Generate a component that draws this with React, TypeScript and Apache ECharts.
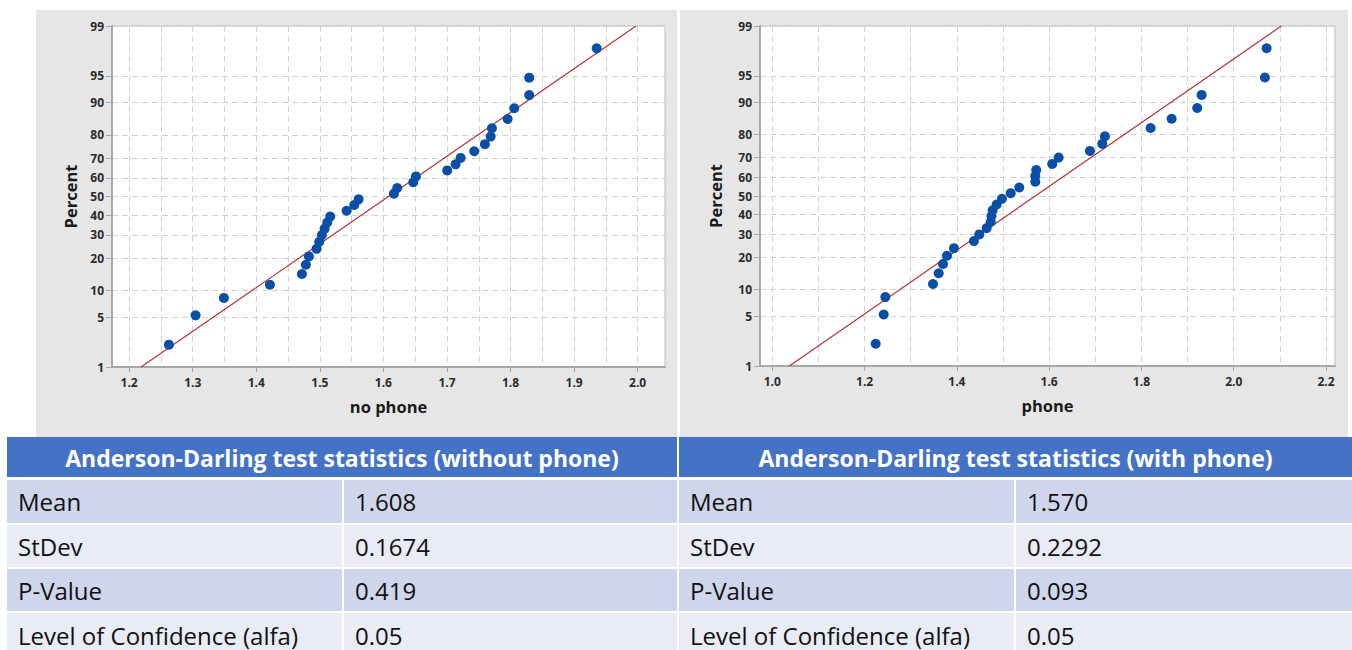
import React, { useEffect, useRef } from "react";
import * as echarts from "echarts";

// Plotting positions (percent) of the 32 ordered observations
const percentRanks = [
  2.16, 5.25, 8.33, 11.42, 14.51, 17.59, 20.68, 23.77, 26.85, 29.94, 33.02, 36.11,
  39.2, 42.28, 45.37, 48.46, 51.54, 54.63, 57.72, 60.8, 63.89, 66.98, 70.06, 73.15,
  76.23, 79.32, 82.41, 85.49, 88.58, 91.67, 94.75, 97.84,
];
const noPhoneValues = [
  1.2625, 1.3045, 1.349, 1.4214, 1.4718, 1.478, 1.4828, 1.4949, 1.499, 1.5032, 1.5075, 1.5116,
  1.5163, 1.5421, 1.5541, 1.561, 1.6165, 1.6217, 1.6469, 1.6512, 1.7004, 1.7136, 1.7215, 1.7429,
  1.7597, 1.7687, 1.7707, 1.7954, 1.8058, 1.8294, 1.8294, 1.9355,
];
const phoneValues = [
  1.224, 1.2414, 1.2449, 1.3482, 1.3606, 1.3699, 1.3785, 1.3937, 1.437, 1.4486, 1.4646, 1.4733,
  1.475, 1.4775, 1.4862, 1.4977, 1.5166, 1.5352, 1.5699, 1.5699, 1.572, 1.6067, 1.6206, 1.6884,
  1.7151, 1.7209, 1.8199, 1.8654, 1.9209, 1.9304, 2.0676, 2.0713,
];
const percentTicks = [1, 5, 10, 20, 30, 40, 50, 60, 70, 80, 90, 95, 99];
const noPhoneXTicks = [1.2, 1.3, 1.4, 1.5, 1.6, 1.7, 1.8, 1.9, 2.0];
const noPhoneXGrid = [1.2, 1.25, 1.3, 1.35, 1.4, 1.45, 1.5, 1.55, 1.6, 1.65, 1.7, 1.75, 1.8, 1.85, 1.9, 1.95, 2.0];
const phoneXTicks = [1.0, 1.2, 1.4, 1.6, 1.8, 2.0, 2.2];
const phoneXGrid = [1.0, 1.1, 1.2, 1.3, 1.4, 1.5, 1.6, 1.7, 1.8, 1.9, 2.0, 2.1, 2.2];
const noPhoneXRange = [1.173, 2.043];
const phoneXRange = [0.9733, 2.2195];
const axisTitles = ["no phone", "phone"];
const tableTitles = [
  "Anderson-Darling test statistics (without phone)",
  "Anderson-Darling test statistics (with phone)",
];
const statLabels = ["Mean", "StDev", "P-Value", "Level of Confidence (alfa)"];
const noPhoneStats = ["1.608", "0.1674", "0.419", "0.05"];
const phoneStats = ["1.570", "0.2292", "0.093", "0.05"];

// Inverse standard normal CDF (Acklam) - used for the probability scale
function normInv(p: number): number {
  const a = [-3.969683028665376e1, 2.209460984245205e2, -2.759285104469687e2, 1.38357751867269e2, -3.066479806614716e1, 2.506628277459239];
  const b = [-5.447609879822406e1, 1.615858368580409e2, -1.556989798598866e2, 6.680131188771972e1, -1.328068155288572e1];
  const c = [-7.784894002430293e-3, -3.223964580411365e-1, -2.400758277161838, -2.549732539343734, 4.374664141464968, 2.938163982698783];
  const d = [7.784695709041462e-3, 3.224671290700398e-1, 2.445134137142996, 3.754408661907416];
  const pl = 0.02425;
  if (p < pl) {
    const q = Math.sqrt(-2 * Math.log(p));
    return (((((c[0] * q + c[1]) * q + c[2]) * q + c[3]) * q + c[4]) * q + c[5]) / ((((d[0] * q + d[1]) * q + d[2]) * q + d[3]) * q + 1);
  }
  if (p <= 1 - pl) {
    const q = p - 0.5;
    const r = q * q;
    return ((((((a[0] * r + a[1]) * r + a[2]) * r + a[3]) * r + a[4]) * r + a[5]) * q) / (((((b[0] * r + b[1]) * r + b[2]) * r + b[3]) * r + b[4]) * r + 1);
  }
  const q = Math.sqrt(-2 * Math.log(1 - p));
  return -(((((c[0] * q + c[1]) * q + c[2]) * q + c[3]) * q + c[4]) * q + c[5]) / ((((d[0] * q + d[1]) * q + d[2]) * q + d[3]) * q + 1);
}

const FONT = "'Open Sans', 'Noto Sans', sans-serif";
const TFONT = "'Open Sans', 'Noto Sans', sans-serif";

function buildOption() {
  const zMin = normInv(0.01);
  const zMax = normInv(0.99);
  const zTicks = percentTicks.map((p) => normInv(p / 100));
  const pctLabel = (v: number) => {
    let bi = 0;
    zTicks.forEach((z, i) => {
      if (Math.abs(z - v) < Math.abs(zTicks[bi] - v)) bi = i;
    });
    return String(percentTicks[bi]);
  };

  const panels = [
    { grid: { left: 112, top: 26, width: 553, height: 341 }, yGap: 33.5, range: noPhoneXRange, ticks: noPhoneXTicks, gridTicks: noPhoneXGrid, values: noPhoneValues, stats: noPhoneStats },
    { grid: { left: 760, top: 26, width: 575, height: 340 }, yGap: 36.5, range: phoneXRange, ticks: phoneXTicks, gridTicks: phoneXGrid, values: phoneValues, stats: phoneStats },
  ];

  const labelStyle = { color: "#2b2b2b", fontSize: 12, fontWeight: "bold", fontFamily: FONT };
  const nameStyle = { color: "#1a1a1a", fontSize: 16.5, fontWeight: "bold", fontFamily: FONT };
  const axisLine = { show: true, onZero: false, lineStyle: { color: "#a8a8a8", width: 2 } };
  const splitLine = { show: true, lineStyle: { color: "#d3d3d3", width: 1, type: [6, 4] } };

  const grid: any[] = [];
  const xAxis: any[] = [];
  const yAxis: any[] = [];
  const series: any[] = [];

  panels.forEach((pn, i) => {
    grid.push({ ...pn.grid, show: true, backgroundColor: "#ffffff", borderColor: "#bdbdbd", borderWidth: 1 });
    xAxis.push({
      type: "value", gridIndex: i, min: pn.range[0], max: pn.range[1], position: "bottom",
      name: axisTitles[i], nameLocation: "middle", nameGap: 31, nameTextStyle: nameStyle,
      axisLine, axisTick: { show: true, length: 5, customValues: pn.ticks, lineStyle: { color: "#a8a8a8" } },
      axisLabel: { ...labelStyle, margin: 9, customValues: pn.ticks, formatter: (v: number) => v.toFixed(1) },
      splitLine: { show: false },
    });
    xAxis.push({
      type: "value", gridIndex: i, min: pn.range[0], max: pn.range[1], position: "top",
      axisLine: { show: false, onZero: false }, axisTick: { show: false, customValues: pn.gridTicks },
      axisLabel: { show: false, customValues: pn.gridTicks }, splitLine,
    });
    yAxis.push({
      type: "value", gridIndex: i, min: zMin, max: zMax,
      name: "Percent", nameLocation: "middle", nameGap: pn.yGap, nameRotate: 90, nameTextStyle: nameStyle,
      axisLine, axisTick: { show: true, length: 6, customValues: zTicks, lineStyle: { color: "#a8a8a8" } },
      axisLabel: { ...labelStyle, margin: 8, customValues: zTicks, formatter: pctLabel, showMinLabel: true, showMaxLabel: true },
      splitLine,
    });
    const mean = parseFloat(pn.stats[0]);
    const sd = parseFloat(pn.stats[1]);
    series.push({
      type: "line", xAxisIndex: i * 2, yAxisIndex: i, symbol: "none", silent: true,
      lineStyle: { color: "#b33636", width: 1.2 },
      data: [[mean + zMin * sd, zMin], [mean + zMax * sd, zMax]], z: 3,
    });
    series.push({
      type: "scatter", xAxisIndex: i * 2, yAxisIndex: i, symbol: "circle", symbolSize: 10,
      itemStyle: { color: "#0a4fa5", opacity: 1 },
      data: pn.values.map((v, k) => [v, normInv(percentRanks[k] / 100)]), z: 4,
    });
  });

  // Panel backgrounds and tables
  const graphic: any[] = [
    { type: "rect", z: -100, shape: { x: 36, y: 10, width: 641, height: 427 }, style: { fill: "#e6e6e6" } },
    { type: "rect", z: -100, shape: { x: 680, y: 10, width: 668, height: 427 }, style: { fill: "#e6e6e6" } },
  ];
  const tables = [
    { x0: 7, x1: 677, split: 343, stats: noPhoneStats },
    { x0: 679, x1: 1352, split: 1015, stats: phoneStats },
  ];
  const rowTops = [480, 525, 569, 613];
  const rowBottoms = [523, 567, 611, 650];
  const rowFills = ["#cfd5ea", "#e9ebf5", "#cfd5ea", "#e9ebf5"];
  tables.forEach((t, ti) => {
    graphic.push({ type: "rect", z: 10, shape: { x: t.x0, y: 437, width: t.x1 - t.x0, height: 40 }, style: { fill: "#4472c4" } });
    graphic.push({
      type: "text", z: 11, x: (t.x0 + t.x1) / 2, y: 458,
      style: { text: tableTitles[ti], fill: "#ffffff", font: `bold 23px ${TFONT}`, align: "center", verticalAlign: "middle" },
    });
    statLabels.forEach((lab, r) => {
      const y = rowTops[r];
      const h = rowBottoms[r] - y;
      graphic.push({ type: "rect", z: 10, shape: { x: t.x0, y, width: t.split - 1 - t.x0, height: h }, style: { fill: rowFills[r] } });
      graphic.push({ type: "rect", z: 10, shape: { x: t.split + 1, y, width: t.x1 - t.split - 1, height: h }, style: { fill: rowFills[r] } });
      const cy = r === 3 ? 635 : y + h / 2;
      graphic.push({
        type: "text", z: 11, x: t.x0 + 11, y: cy,
        style: { text: lab, fill: "#111111", font: `24px ${TFONT}`, align: "left", verticalAlign: "middle" },
      });
      graphic.push({
        type: "text", z: 11, x: t.split + 12, y: cy,
        style: { text: t.stats[r], fill: "#111111", font: `24px ${TFONT}`, align: "left", verticalAlign: "middle" },
      });
    });
  });

  return { animation: false, backgroundColor: "#ffffff", grid, xAxis, yAxis, series, graphic };
}

export default function App() {
  const ref = useRef<HTMLDivElement>(null);
  useEffect(() => {
    if (!ref.current) return;
    const chart = echarts.init(ref.current, undefined, { renderer: "svg" });
    chart.setOption(buildOption() as any);
    return () => chart.dispose();
  }, []);
  return <div ref={ref} style={{ position: "absolute", left: 0, top: 0, width: 1352, height: 650 }} />;
}
